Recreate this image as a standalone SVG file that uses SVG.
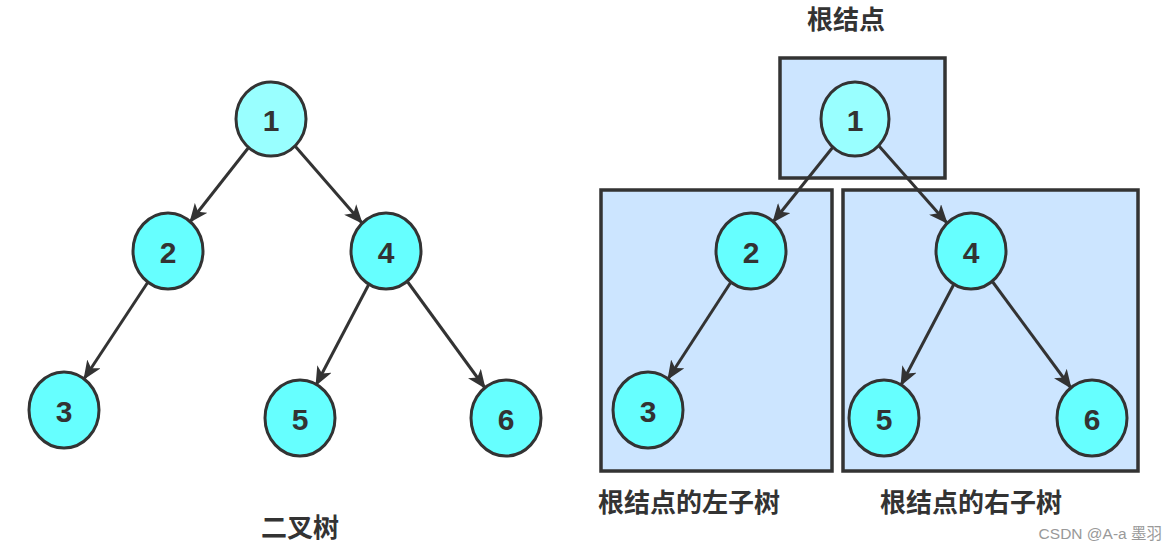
<svg xmlns="http://www.w3.org/2000/svg" width="1175" height="550" viewBox="0 0 1175 550">
<style>
.node{fill:#66ffff;stroke:#333;stroke-width:3}
.root{fill:#99ffff;stroke:#333;stroke-width:3}
.box{fill:#cce5ff;stroke:#333;stroke-width:3.5}
.num{font-family:"Liberation Sans","Noto Sans",sans-serif;font-weight:bold;font-size:30px;fill:#333;text-anchor:middle;dominant-baseline:central}
.lbl{font-family:"Noto Sans CJK SC","Noto Sans",sans-serif;font-weight:bold;font-size:26px;fill:#333}
.edge{stroke:#333;stroke-width:3;fill:none;marker-end:url(#arr)}
.wm{font-family:"Liberation Sans","Noto Sans CJK SC",sans-serif;font-size:15.5px;fill:#999;text-anchor:end}
</style>
<defs>
<marker id="arr" markerUnits="userSpaceOnUse" markerWidth="20" markerHeight="16" refX="18" refY="8" orient="auto">
<path d="M0,0 L19,8 L0,16 L5,8 z" fill="#333"/>
</marker>
</defs>
<rect width="1175" height="550" fill="#fff"/>
<g id="boxes">
<rect id="box-root" class="box" x="780" y="58" width="165" height="120"/>
<rect id="box-left" class="box" x="601" y="190" width="231" height="281"/>
<rect id="box-right" class="box" x="843" y="190" width="295" height="281"/>
</g>
<g id="connectors">
<line class="edge" x1="249" y1="147" x2="190" y2="222"/>
<line class="edge" x1="295" y1="146" x2="362" y2="223"/>
<line class="edge" x1="148" y1="282" x2="84" y2="379"/>
<line class="edge" x1="369" y1="284" x2="316" y2="385"/>
<line class="edge" x1="407" y1="281" x2="485" y2="388"/>
<line class="edge" x1="833" y1="147" x2="773" y2="222"/>
<line class="edge" x1="879" y1="146" x2="947" y2="223"/>
<line class="edge" x1="731" y1="282" x2="668" y2="379"/>
<line class="edge" x1="954" y1="284" x2="901" y2="385"/>
<line class="edge" x1="992" y1="281" x2="1071" y2="388"/>
</g>
<g id="L1"><ellipse class="root" cx="271" cy="119" rx="35" ry="37"/><text class="num" x="271" y="120">1</text></g>
<g id="L2"><ellipse class="node" cx="168" cy="251" rx="35" ry="38"/><text class="num" x="168" y="252">2</text></g>
<g id="L4"><ellipse class="node" cx="386" cy="251" rx="35" ry="38"/><text class="num" x="386" y="252">4</text></g>
<g id="L3"><ellipse class="node" cx="64" cy="410" rx="35" ry="38"/><text class="num" x="64" y="411">3</text></g>
<g id="L5"><ellipse class="node" cx="300" cy="418" rx="35" ry="38"/><text class="num" x="300" y="419">5</text></g>
<g id="L6"><ellipse class="node" cx="506" cy="418" rx="35" ry="38"/><text class="num" x="506" y="419">6</text></g>
<g id="R1"><ellipse class="root" cx="855" cy="119" rx="34" ry="37"/><text class="num" x="855" y="120">1</text></g>
<g id="R2"><ellipse class="node" cx="751" cy="251" rx="35" ry="38"/><text class="num" x="751" y="252">2</text></g>
<g id="R4"><ellipse class="node" cx="971" cy="251" rx="35" ry="38"/><text class="num" x="971" y="252">4</text></g>
<g id="R3"><ellipse class="node" cx="648" cy="410" rx="35" ry="38"/><text class="num" x="648" y="411">3</text></g>
<g id="R5"><ellipse class="node" cx="884" cy="418" rx="35" ry="38"/><text class="num" x="884" y="419">5</text></g>
<g id="R6"><ellipse class="node" cx="1092" cy="418" rx="35" ry="38"/><text class="num" x="1092" y="419">6</text></g>
<g id="labels">
<text class="lbl" x="846" y="29" text-anchor="middle">根结点</text>
<text class="lbl" x="300" y="537" text-anchor="middle">二叉树</text>
<text class="lbl" x="598" y="512">根结点的左子树</text>
<text class="lbl" x="880" y="512">根结点的右子树</text>
<text class="wm" x="1162" y="539">CSDN @A-a 墨羽</text>
</g>
</svg>
